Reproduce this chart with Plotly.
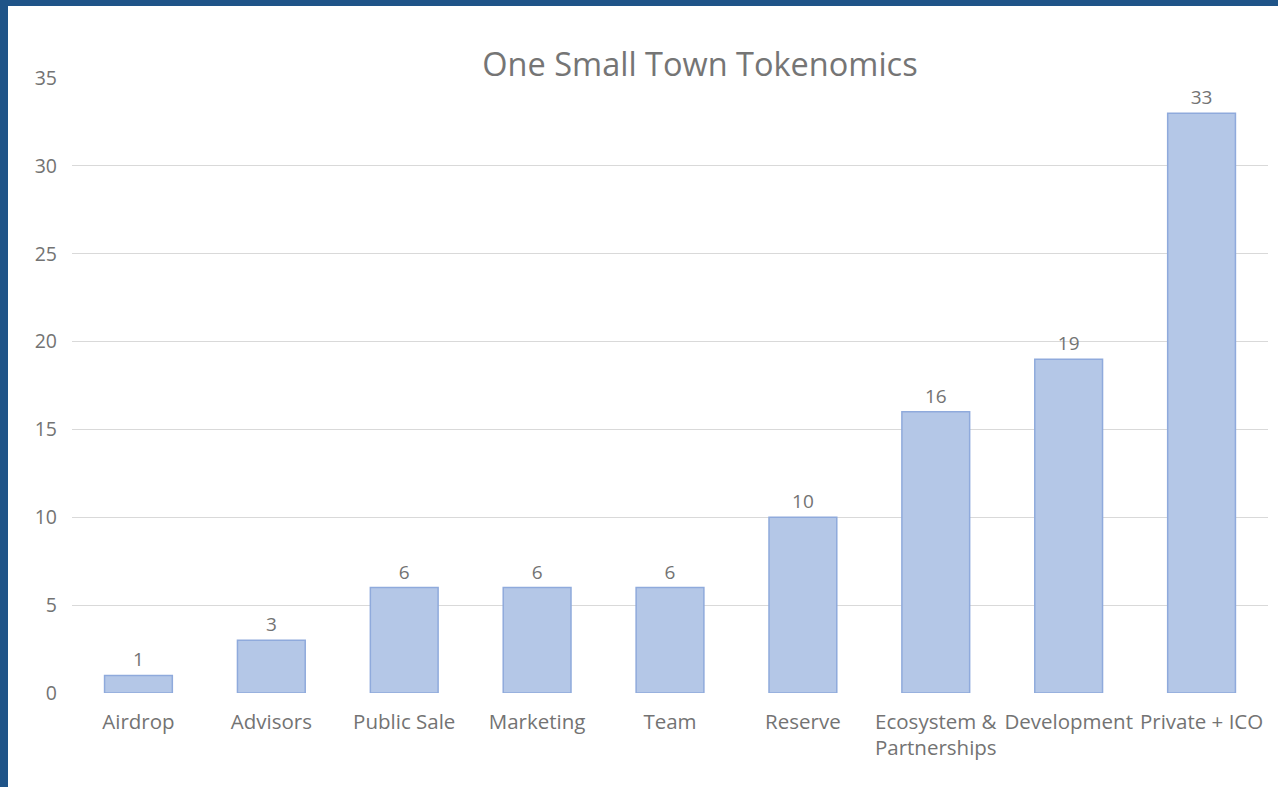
import plotly.graph_objects as go

categories = ["Airdrop", "Advisors", "Public Sale", "Marketing", "Team", "Reserve",
              "Ecosystem &<br>Partnerships", "Development", "Private + ICO"]
values = [1, 3, 6, 6, 6, 10, 16, 19, 33]
y_ticks = [0, 5, 10, 15, 20, 25, 30, 35]

W, H = 1278, 787
L, R, T, B = 72, 10, 78, 94
pw, ph = W - L - R, H - T - B

def px_x(p):
    return (p - L) / pw

def px_y(p):
    return (H - B - p) / ph

FONT = "Open Sans"
GRAY = "#737373"

fig = go.Figure()
fig.add_trace(go.Bar(
    x=categories, y=values,
    marker=dict(color="#B4C7E7", line=dict(color="#8FAADC", width=1.5)),
    text=[str(v) for v in values], textposition="outside",
    textfont=dict(family=FONT, size=19, color=GRAY),
    cliponaxis=False,
))

fig.update_layout(
    width=W, height=H,
    margin=dict(l=L, r=R, t=T, b=B),
    paper_bgcolor="#1F5488",
    plot_bgcolor="white",
    showlegend=False,
    bargap=0.49,
    title=dict(text="One Small Town Tokenomics", x=700 / W, xref="container", xanchor="center",
               y=1 - 65 / H, yref="container", yanchor="middle",
               font=dict(family=FONT, size=32.5, color="#757575")),
    font=dict(family=FONT, color=GRAY),
    shapes=[dict(type="rect", xref="paper", yref="paper", layer="below",
                 x0=px_x(8), x1=px_x(W + 5), y0=px_y(H + 5), y1=px_y(6),
                 fillcolor="white", line=dict(width=0))],
)
fig.update_yaxes(range=[0, 35], tickvals=y_ticks, showgrid=True, gridcolor="#D9D9D9",
                 gridwidth=1, zeroline=False, showline=False,
                 tickfont=dict(family=FONT, size=19.5, color=GRAY), ticks="", ticklabelstandoff=14)
fig.update_xaxes(showgrid=False, showline=False, zeroline=False, ticks="",
                 tickfont=dict(family=FONT, size=20.5, color=GRAY), ticklabelstandoff=14,
                 tickangle=0)

fig.write_html("out.html", config={"displayModeBar": False},
               post_script="document.body.style.margin='0';")
